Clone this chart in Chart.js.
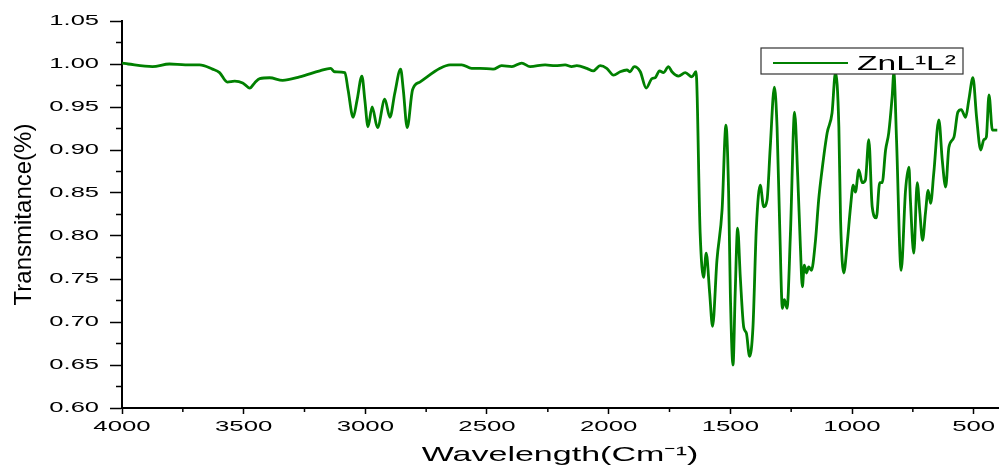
<!DOCTYPE html>
<html>
<head>
<meta charset="utf-8">
<script src="https://cdn.jsdelivr.net/npm/chart.js@4"></script>
<style>
  html, body { margin: 0; padding: 0; background: #fff; }
</style>
</head>
<body>
<canvas id="chart" width="1002" height="471"></canvas>
<script>
// IR spectrum
const wavenumbers = [
  4000, 3975, 3875, 3805, 3740, 3681, 3628, 3599, 3567, 3537, 3504, 3475, 3455, 3434, 3393, 3340,
  3270, 3187, 3143, 3126, 3084, 3071, 3050, 3034, 3014, 3002, 2989, 2972, 2950, 2920, 2899, 2879,
  2855, 2844, 2828, 2806, 2776, 2693, 2652, 2604, 2563, 2529, 2475, 2440, 2398, 2357, 2323, 2261,
  2220, 2179, 2152, 2131, 2090, 2063, 2035, 2008, 1980, 1953, 1925, 1912, 1895, 1870, 1846, 1822,
  1809, 1791, 1775, 1754, 1740, 1713, 1685, 1658, 1641, 1624, 1610, 1599, 1585, 1573, 1555, 1534,
  1518, 1507, 1500, 1489, 1480, 1470, 1459, 1445, 1434, 1421, 1407, 1393, 1377, 1363, 1349, 1336,
  1319, 1308, 1297, 1286, 1278, 1267, 1253, 1236, 1223, 1212, 1204, 1196, 1187, 1178, 1167, 1150,
  1137, 1123, 1102, 1082, 1068, 1054, 1047, 1034, 1020, 1006, 995, 986, 972, 958, 945, 931,
  917, 900, 886, 876, 862, 849, 835, 828, 817, 798, 780, 766, 760, 746, 732, 721,
  710, 698, 687, 677, 664, 643, 629, 615, 602, 581, 565, 551, 533, 520, 503, 488,
  471, 458, 448, 437, 423, 403
]
const transmittance = [
  1.001, 1.000, 0.997, 1.000, 0.999, 0.999, 0.994, 0.990, 0.979, 0.980, 0.978, 0.972, 0.978, 0.983, 0.984, 0.981,
  0.985, 0.992, 0.995, 0.991, 0.990, 0.970, 0.938, 0.958, 0.986, 0.958, 0.927, 0.950, 0.926, 0.959, 0.938, 0.966,
  0.994, 0.970, 0.926, 0.970, 0.979, 0.995, 0.999, 0.999, 0.995, 0.995, 0.994, 0.998, 0.997, 1.001, 0.997, 0.999,
  0.998, 0.999, 0.997, 0.998, 0.995, 0.992, 0.998, 0.995, 0.987, 0.991, 0.993, 0.991, 0.997, 0.991, 0.972, 0.983,
  0.984, 0.992, 0.990, 0.997, 0.991, 0.986, 0.990, 0.985, 0.991, 0.803, 0.752, 0.780, 0.734, 0.695, 0.772, 0.830,
  0.929, 0.850, 0.734, 0.650, 0.734, 0.809, 0.752, 0.694, 0.687, 0.660, 0.694, 0.810, 0.859, 0.834, 0.842, 0.903,
  0.973, 0.927, 0.810, 0.716, 0.726, 0.716, 0.803, 0.944, 0.869, 0.787, 0.741, 0.766, 0.757, 0.764, 0.760, 0.795,
  0.842, 0.877, 0.920, 0.943, 0.990, 0.927, 0.819, 0.757, 0.790, 0.834, 0.859, 0.851, 0.877, 0.862, 0.865, 0.912,
  0.834, 0.821, 0.862, 0.862, 0.900, 0.920, 0.962, 0.990, 0.912, 0.760, 0.853, 0.880, 0.842, 0.780, 0.862, 0.827,
  0.795, 0.827, 0.853, 0.838, 0.873, 0.935, 0.888, 0.857, 0.903, 0.915, 0.944, 0.947, 0.938, 0.958, 0.984, 0.938,
  0.900, 0.912, 0.915, 0.964, 0.923, 0.923
]
const seriesLabel = "ZnL¹L²"
const xTicks = [4000, 3500, 3000, 2500, 2000, 1500, 1000, 500]
const xMinorTicks = [3750, 3250, 2750, 2250, 1750, 1250, 750]
const yMinorTicks = [1.025, 0.975, 0.925, 0.875, 0.825, 0.775, 0.725, 0.675, 0.625]

const LINE_COLOR = "rgb(0,128,0)"
const FONT = "'Liberation Sans', Arial, sans-serif"

// the reference text is drawn wide; squeeze in a horizontal scale right after
// Chart.js rotates each label into place
function widen(scale, method, k) {
  const orig = scale[method]
  scale[method] = function (...args) {
    const ctx = this.ctx
    const rotate = ctx.rotate
    ctx.rotate = function (a) { rotate.call(this, a); this.scale(k, 1) }
    try { orig.apply(this, args) } finally { ctx.rotate = rotate }
  }
}

const wideText = {
  id: "wideText",
  beforeLayout(chart) {
    const { x, y } = chart.scales
    if (!x || x._widened) return
    widen(x, "drawLabels", 1.72)
    widen(x, "drawTitle", 1.62)
    widen(y, "drawLabels", 1.7)
    x._widened = true
  }
}

const extras = {
  id: "extras",
  afterDraw(chart) {
    const { ctx, chartArea, scales: { x, y } } = chart
    ctx.save()
    ctx.strokeStyle = "#000"
    ctx.lineWidth = 1.5
    ctx.beginPath()
    xMinorTicks.forEach(v => {
      const px = x.getPixelForValue(v)
      ctx.moveTo(px, chartArea.bottom)
      ctx.lineTo(px, chartArea.bottom + 4)
    })
    yMinorTicks.forEach(v => {
      const py = y.getPixelForValue(v)
      ctx.moveTo(chartArea.left, py)
      ctx.lineTo(chartArea.left - 6, py)
    })
    ctx.stroke()

    // boxed legend, top right
    const left = chartArea.right - 237
    const top = chartArea.top + 27
    ctx.fillStyle = "#fff"
    ctx.fillRect(left, top, 202, 26)
    ctx.strokeStyle = "#333"
    ctx.lineWidth = 1.2
    ctx.strokeRect(left, top, 202, 26)
    ctx.strokeStyle = LINE_COLOR
    ctx.lineWidth = 2
    ctx.beginPath()
    ctx.moveTo(left + 12, top + 15)
    ctx.lineTo(left + 87, top + 15)
    ctx.stroke()
    ctx.fillStyle = "#000"
    ctx.font = "21px " + FONT
    ctx.textAlign = "left"
    ctx.textBaseline = "alphabetic"
    ctx.translate(left + 96, top + 22)
    ctx.scale(1.6, 1)
    ctx.fillText(chart.data.datasets[0].label, 0, 0)
    ctx.restore()
  }
}

new Chart(document.getElementById("chart"), {
  type: "line",
  data: {
    datasets: [{
      label: seriesLabel,
      data: wavenumbers.map((w, i) => ({ x: w, y: transmittance[i] })),
      borderColor: LINE_COLOR,
      borderWidth: 2.8,
      pointRadius: 0,
      cubicInterpolationMode: "monotone",
      fill: false
    }]
  },
  options: {
    responsive: false,
    devicePixelRatio: 1,
    animation: false,
    layout: { padding: { top: 21, right: 4, left: 0, bottom: 0 } },
    plugins: {
      legend: { display: false },
      tooltip: { enabled: false }
    },
    scales: {
      x: {
        type: "linear",
        reverse: true,
        min: 400,
        max: 4000,
        afterBuildTicks: scale => { scale.ticks = xTicks.map(v => ({ value: v })) },
        afterFit: scale => { scale.height = 63 },
        border: { color: "#000", width: 2 },
        grid: { drawOnChartArea: false, tickLength: 6, tickColor: "#000", tickWidth: 1.5 },
        ticks: {
          autoSkip: false,
          maxRotation: 0,
          padding: 4,
          color: "#000",
          font: { family: FONT, size: 15 },
          callback: v => String(v)
        },
        title: {
          display: true,
          text: "Wavelength(Cm⁻¹)",
          color: "#000",
          font: { family: FONT, size: 21 },
          padding: { top: 0, bottom: 3 }
        }
      },
      y: {
        min: 0.6,
        max: 1.05,
        afterFit: scale => { scale.width = 122 },
        border: { color: "#000", width: 2 },
        grid: { drawOnChartArea: false, tickLength: 12, tickColor: "#000", tickWidth: 1.5 },
        ticks: {
          stepSize: 0.05,
          padding: 11,
          color: "#000",
          font: { family: FONT, size: 15 },
          callback: v => v.toFixed(2)
        },
        title: {
          display: true,
          text: "Transmitance(%)",
          color: "#000",
          font: { family: FONT, size: 24 },
          padding: { top: 10, bottom: 0 }
        }
      }
    }
  },
  plugins: [wideText, extras]
})
</script>
</body>
</html>
